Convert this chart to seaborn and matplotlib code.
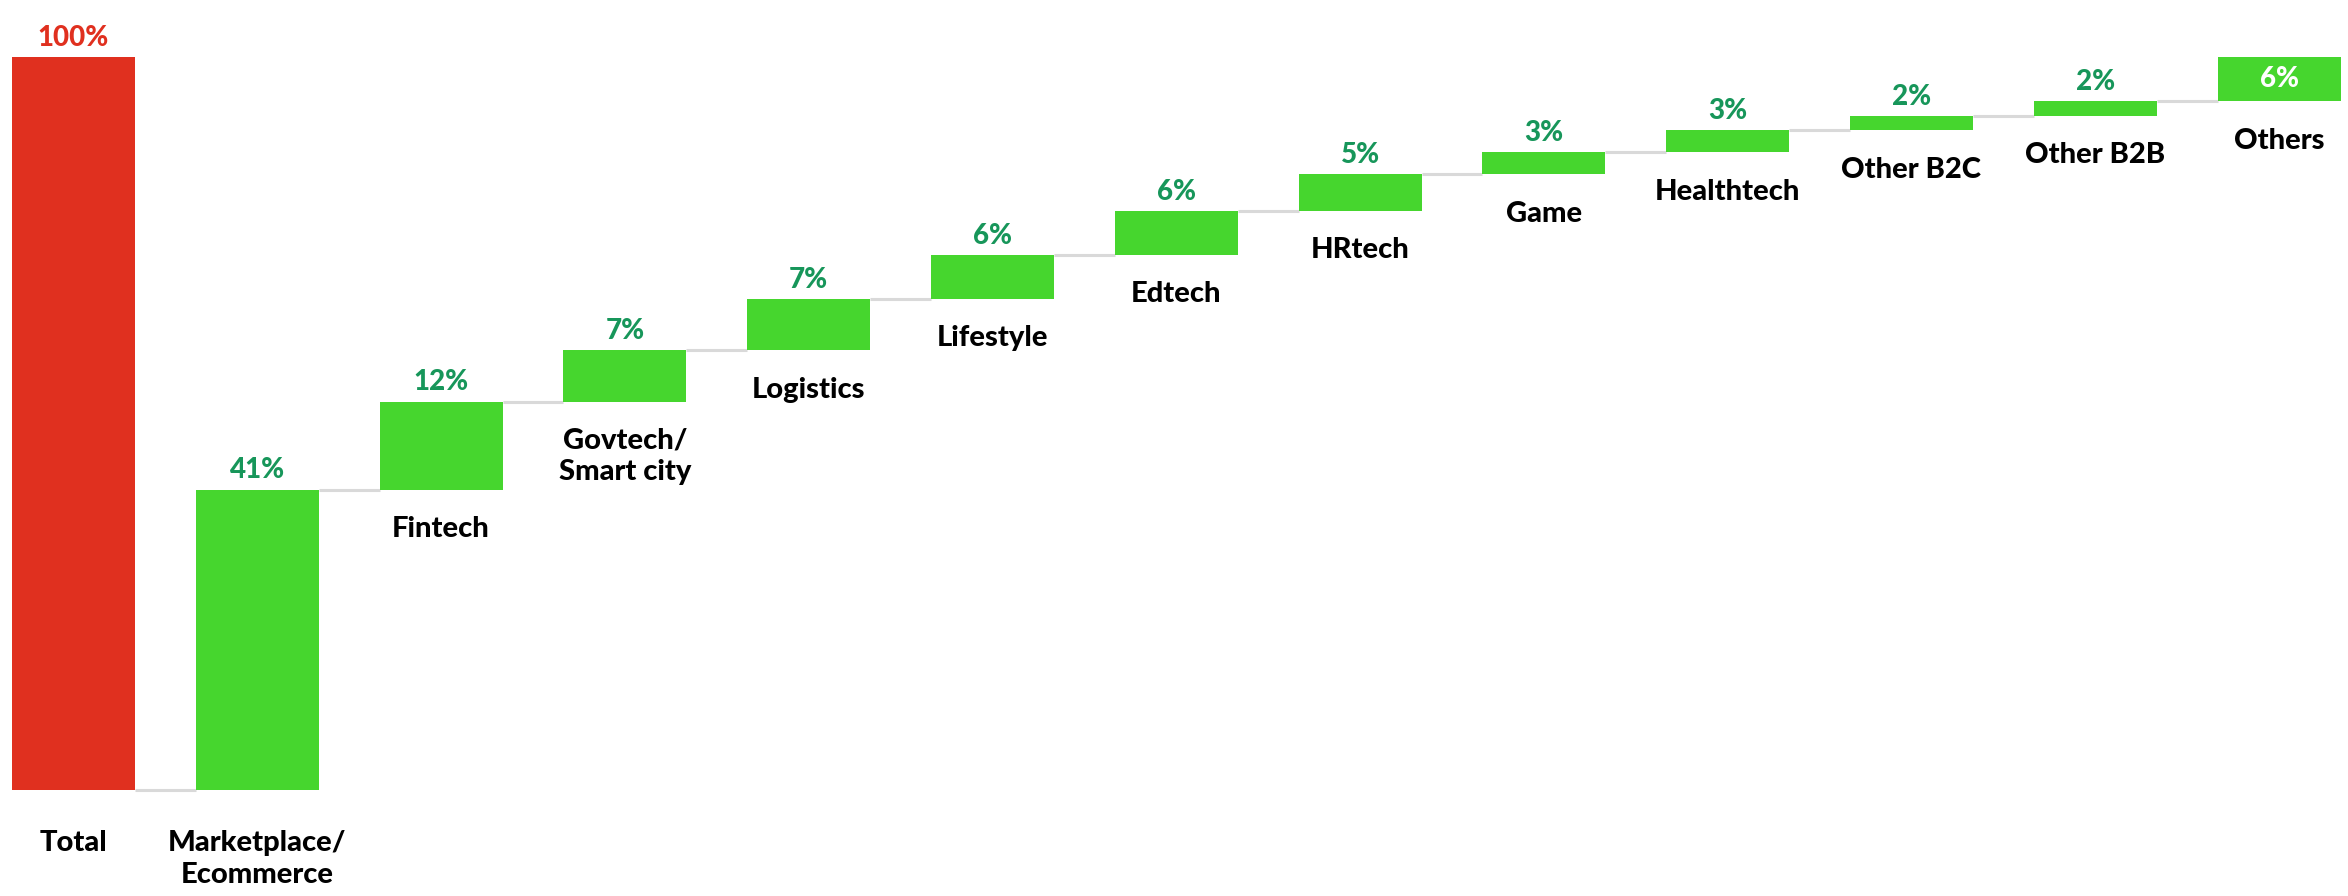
import numpy as np
import pandas as pd
import matplotlib
matplotlib.use("Agg")
import matplotlib.pyplot as plt
import seaborn as sns

# ------------------------------------------------------------------
# Data: share of deals by sector (waterfall, starting from 0)
# ------------------------------------------------------------------
categories = ["Total", "Marketplace/\nEcommerce", "Fintech", "Govtech/\nSmart city",
              "Logistics", "Lifestyle", "Edtech", "HRtech", "Game", "Healthtech",
              "Other B2C", "Other B2B", "Others"]
total_value = 100
sector_values = [41, 12, 7, 7, 6, 6, 5, 3, 3, 2, 2, 6]

# waterfall geometry from the values
heights = [total_value] + sector_values
bottoms = [0] + list(np.cumsum([0] + sector_values[:-1]))
tops = [b + h for b, h in zip(bottoms, heights)]

df = pd.DataFrame({"category": categories, "height": heights, "bottom": bottoms})

RED = "#E0301F"
GREEN = "#46D62E"
LABEL_GREEN = "#17965A"
GREY = "#D9D9D9"

sns.set_style("white")
plt.rcParams["font.family"] = ["Lato", "DejaVu Sans"]

fig = plt.figure(figsize=(23.48, 8.96), dpi=100)
ax = fig.add_axes([0, 0, 1, 1])

sns.barplot(data=df, x="category", y="height", bottom=df["bottom"].to_numpy(),
            color=GREEN, width=0.67, saturation=1, ax=ax)
ax.patches[0].set_facecolor(RED)
for p in ax.patches:
    p.set_edgecolor("none")

# connector lines between consecutive bars
half = 0.67 / 2
for i in range(len(categories) - 1):
    level = bottoms[i + 1]
    ax.plot([i + half, i + 1 - half], [level, level], color=GREY, lw=2.2,
            solid_capstyle="butt", zorder=0)

# value labels
for i, (cat, h, b, t) in enumerate(zip(categories, heights, bottoms, tops)):
    txt = f"{h}%"
    if i == 0:
        ax.annotate(txt, (i, t), xytext=(0, 8), textcoords="offset points",
                    ha="center", va="baseline", color=RED, fontsize=20,
                    fontweight="black")
    elif i == len(categories) - 1:
        ax.text(i, b + h / 2, txt, ha="center", va="center", color="white",
                fontsize=20, fontweight="black")
    else:
        ax.annotate(txt, (i, t), xytext=(0, 8), textcoords="offset points",
                    ha="center", va="baseline", color=LABEL_GREEN, fontsize=20,
                    fontweight="black")

    # category labels below each bar
    off = -29 if b == 0 else -19
    ax.annotate(cat, (i, b), xytext=(0, off), textcoords="offset points",
                ha="center", va="top", color="black", fontsize=21,
                fontweight="black", linespacing=1.25)

ax.set_xlim(-0.4, 12.375)
ax.set_ylim(-14.46, 107.8)
ax.axis("off")

fig.savefig("out.png", dpi=100, facecolor="white")
